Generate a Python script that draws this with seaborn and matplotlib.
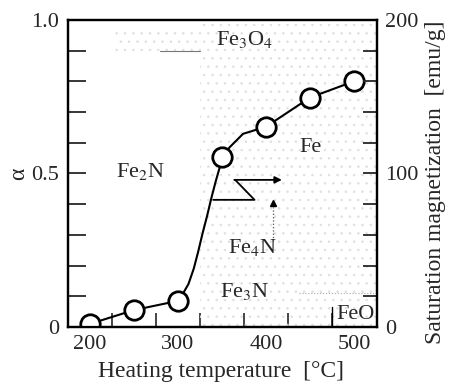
import matplotlib
matplotlib.use("Agg")
import matplotlib.pyplot as plt
import seaborn as sns
import numpy as np
import pandas as pd

# measured points (alpha vs heating temperature)
temps = [200, 250, 300, 350, 400, 450, 500]
alpha = [0.01, 0.055, 0.085, 0.555, 0.652, 0.747, 0.80]

# hand-drawn guide curve
curve_temp = [200, 250, 300, 306, 312, 318, 323, 328, 333, 338, 343, 348, 350,
              359, 374, 400, 450, 500]
curve_alpha = [0.01, 0.055, 0.085, 0.11, 0.14, 0.19, 0.245, 0.305, 0.36, 0.42,
               0.475, 0.525, 0.555, 0.586, 0.629, 0.652, 0.747, 0.80]

# phase labels
phase_names = [r"Fe$_3$O$_4$", r"Fe$_2$N", "Fe", r"Fe$_4$N", r"Fe$_3$N", "FeO"]
phase_x = [376, 257, 451, 385, 376, 502]
phase_y = [0.935, 0.505, 0.586, 0.26, 0.114, 0.04]

x_major = [200, 300, 400, 500]
x_minor = [225, 275, 325, 375, 425, 475]
left_ticks = [0, 0.5, 1.0]
left_labels = ["0", "0.5", "1.0"]
right_ticks = [0, 100, 200]

sns.set_style("white")
plt.rcParams["font.family"] = ["Liberation Serif", "DejaVu Serif"]
plt.rcParams["mathtext.fontset"] = "stix"
plt.rcParams["hatch.linewidth"] = 0.6

fig = plt.figure(figsize=(4.52, 3.82), dpi=100)
ax = fig.add_axes([0.150, 0.144, 0.684, 0.804])

# stippled phase areas
ax.fill_between([325, 530], 0, 1, facecolor="none", edgecolor="#e0e0e0",
                hatch="..", linewidth=0)
ax.fill_between([228, 325], 0.9, 0.975, facecolor="none", edgecolor="#e0e0e0",
                hatch="..", linewidth=0)
ax.plot([280, 325], [0.9, 0.9], color="#777777", lw=0.8)
ax.plot([438, 526], [0.11, 0.11], color="#aaaaaa", lw=0.8, ls=":")
ax.plot([475, 475], [0, 0.065], color="black", lw=1.0)
ax.plot([408, 408], [0.28, 0.39], color="#555555", lw=0.9, ls=":")

df = pd.DataFrame({"temp": curve_temp, "alpha": curve_alpha})
sns.lineplot(data=df, x="temp", y="alpha", ax=ax, color="black", lw=1.5, sort=False)
ax.plot(temps, alpha, "o", ms=14, mfc="white", mec="black", mew=2.0, zorder=5)

# Z-shaped arrow and triangle marker
ax.plot([340, 387, 365], [0.414, 0.414, 0.479], color="black", lw=1.3)
ax.annotate("", xy=(418, 0.479), xytext=(364, 0.479),
            arrowprops=dict(arrowstyle="-|>", color="black", lw=1.3,
                            mutation_scale=10, shrinkA=0, shrinkB=0))
ax.plot([408], [0.405], marker="^", color="black", ms=5)

for name, px, py in zip(phase_names, phase_x, phase_y):
    ax.text(px, py, name, ha="center", va="center", fontsize=16)

ax.set_xlim(175, 526)
ax.set_ylim(0, 1.0)
ax.set_xticks(x_major)
ax.set_xticks(x_minor, minor=True)
ax.set_yticks(left_ticks)
ax.set_yticklabels(left_labels)
ax.set_yticks(np.arange(0.1, 1.0, 0.1), minor=True)
ax.tick_params(axis="x", which="major", length=0, labelsize=16, pad=6)
ax.tick_params(axis="x", which="minor", direction="in", length=10, width=1.2, bottom=True)
ax.tick_params(axis="y", which="both", direction="in", length=13, width=1.3,
               labelsize=16, left=True, pad=6)
ax.set_xlabel("Heating temperature  [°C]", fontsize=17)
ax.xaxis.set_label_coords(0.495, -0.112)
ax.set_ylabel("α", fontsize=17, labelpad=2)
for s in ax.spines.values():
    s.set_linewidth(1.6)
    s.set_color("black")

ax2 = ax.twinx()
ax2.set_ylim(0, 200)
ax2.set_yticks(right_ticks)
ax2.set_yticks(np.arange(20, 200, 20), minor=True)
ax2.tick_params(axis="y", which="both", direction="in", length=10, width=1.3,
                labelsize=16, right=True, pad=6)
ax2.set_ylabel("Saturation magnetization  [emu/g]", fontsize=17, va="center")
ax2.yaxis.set_label_coords(1.188, 0.47)
for s in ax2.spines.values():
    s.set_linewidth(1.6)
    s.set_color("black")

fig.savefig("out.png", dpi=100)
